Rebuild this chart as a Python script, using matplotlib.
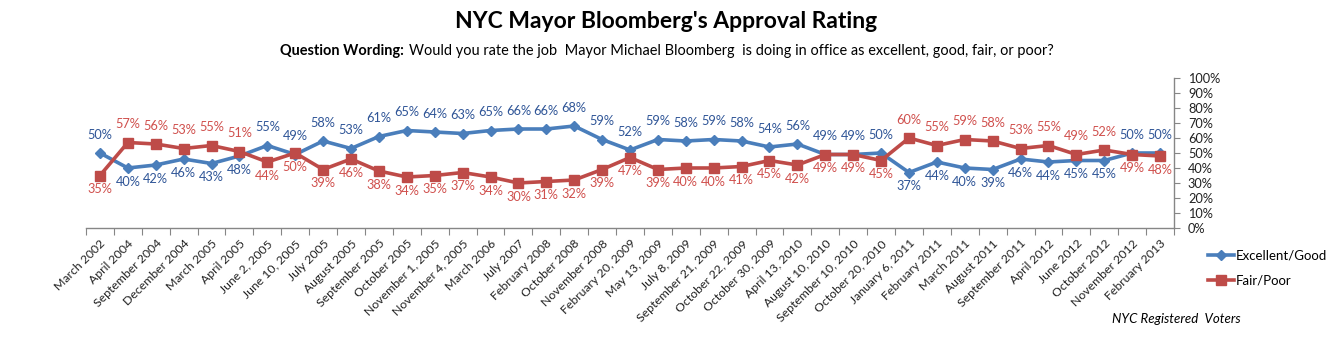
#!/usr/bin/env python3

import matplotlib
matplotlib.use("Agg")
import matplotlib.pyplot as plt
from matplotlib.lines import Line2D

fechas = [
    "March 2002", "April 2004", "September 2004", "December 2004", "March 2005",
    "April 2005", "June 2, 2005", "June 10, 2005", "July 2005", "August 2005",
    "September 2005", "October 2005", "November 1, 2005", "November 4, 2005",
    "March 2006", "July 2007", "February 2008", "October 2008", "November 2008",
    "February 20, 2009", "May 13, 2009", "July 8, 2009", "September 21, 2009",
    "October 22, 2009", "October 30, 2009", "April 13, 2010", "August 10, 2010",
    "September 10, 2010", "October 20, 2010", "January 6, 2011", "February 2011",
    "March 2011", "August 2011", "September 2011", "April 2012", "June 2012",
    "October 2012", "November 2012", "February 2013",
]
excelente_bueno = [50, 40, 42, 46, 43, 48, 55, 49, 58, 53, 61, 65, 64, 63, 65, 66, 66, 68,
                   59, 52, 59, 58, 59, 58, 54, 56, 49, 49, 50, 37, 44, 40, 39, 46, 44,
                   45, 45, 50, 50]
regular_malo = [35, 57, 56, 53, 55, 51, 44, 50, 39, 46, 38, 34, 35, 37, 34, 30, 31, 32,
                39, 47, 39, 40, 40, 41, 45, 42, 49, 49, 45, 60, 55, 59, 58, 53, 55,
                49, 52, 49, 48]

AZUL = "#4A7EBB"
ROJO = "#BE4B48"
AZUL_TXT = "#2F5597"
ROJO_TXT = "#D0504D"
GRIS = "#868686"

plt.rcParams["font.family"] = ["Lato", "DejaVu Sans"]

fig = plt.figure(figsize=(13.33, 3.43), dpi=100)
ax = fig.add_axes([86 / 1333, 1 - 228 / 343, (1174 - 86) / 1333, 150 / 343])

x = list(range(len(fechas)))
ax.plot(x, excelente_bueno, color=AZUL, lw=2.6, marker="D", ms=5.5,
        markerfacecolor=AZUL, markeredgecolor=AZUL, zorder=3)
ax.plot(x, regular_malo, color=ROJO, lw=2.6, marker="s", ms=7.5,
        markerfacecolor=ROJO, markeredgecolor=ROJO, zorder=4)

# etiquetas de datos: la serie mas alta arriba, la otra abajo
for i, (a, r) in enumerate(zip(excelente_bueno, regular_malo)):
    azul_arriba = a >= r - 1
    da = 13 if azul_arriba else -10
    dr = -10 if azul_arriba else 13
    ax.annotate(f"{a}%", (i, a), xytext=(0, da), textcoords="offset points",
                ha="center", va="center", fontsize=9.2, color=AZUL_TXT)
    ax.annotate(f"{r}%", (i, r), xytext=(0, dr), textcoords="offset points",
                ha="center", va="center", fontsize=9.2, color=ROJO_TXT)

ax.set_xlim(-0.5, len(fechas) - 0.5)
ax.set_ylim(0, 100)
ax.set_xticks([i - 0.5 for i in range(len(fechas) + 1)])
ax.set_xticklabels([])
ax.set_xticks(x, minor=True)
ax.set_xticklabels(fechas, minor=True, rotation=45, ha="right",
                   rotation_mode="anchor", fontsize=8.8, color="#222222")
ax.tick_params(axis="x", which="major", length=5, color=GRIS, direction="out")
ax.tick_params(axis="x", which="minor", length=0, pad=7)

ax.yaxis.tick_right()
ax.set_yticks(range(0, 101, 10))
ax.set_yticklabels([f"{v}%" for v in range(0, 101, 10)], fontsize=9.2, color="#222222")
ax.tick_params(axis="y", length=4, color=GRIS, direction="out", pad=6)

for lado in ["top", "left"]:
    ax.spines[lado].set_visible(False)
for lado in ["bottom", "right"]:
    ax.spines[lado].set_color(GRIS)
    ax.spines[lado].set_linewidth(1)

fig.text(0.5, 0.936, "NYC Mayor Bloomberg's Approval Rating", ha="center", va="center",
         fontsize=16.5, fontweight="bold")

# subtitulo: parte en negrita seguida del resto, juntas
negrita = fig.text(0.210, 0.850, "Question Wording:", ha="left", va="center",
                   fontsize=10.45, fontweight="bold")
fig.canvas.draw()
caja = negrita.get_window_extent().transformed(fig.transFigure.inverted())
fig.text(caja.x1 + 0.004, 0.850,
         "Would you rate the job  Mayor Michael Bloomberg  is doing in office as excellent, good, fair, or poor?",
         ha="left", va="center", fontsize=10.45)

manejadores = [
    Line2D([], [], color=AZUL, lw=2.6, marker="D", ms=5.5),
    Line2D([], [], color=ROJO, lw=2.6, marker="s", ms=7.5),
]
fig.legend(manejadores, ["Excellent/Good", "Fair/Poor"], loc="upper left",
           bbox_to_anchor=(0.906, 0.272), frameon=False, fontsize=9.5,
           handlelength=2.0, handletextpad=0.15, labelspacing=1.0,
           borderaxespad=0, borderpad=0)

fig.text(0.834, 0.07, "NYC Registered  Voters", ha="left", va="center",
         fontsize=9.5, style="italic")

fig.savefig("out.png", dpi=100)
